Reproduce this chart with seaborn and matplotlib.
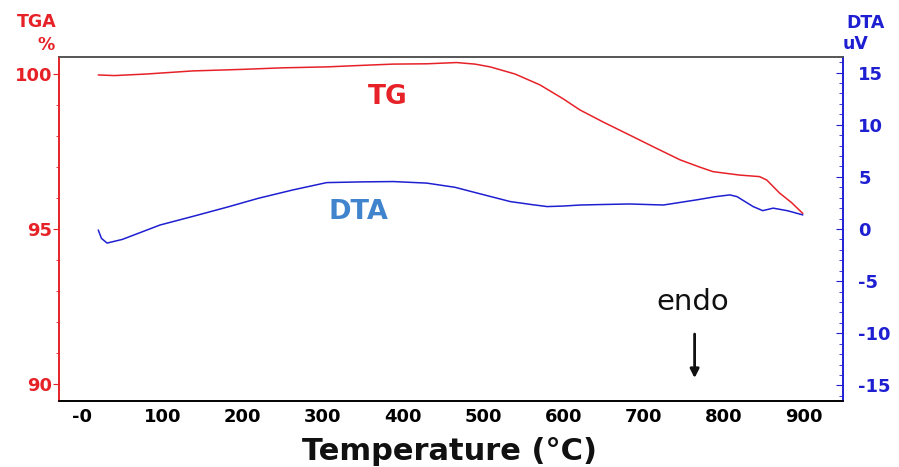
import numpy as np
import pandas as pd
import matplotlib.pyplot as plt
import seaborn as sns
from matplotlib.ticker import MultipleLocator

# TG curve (weight %, left axis)
tg_temp = [20, 40, 80, 138, 200, 250, 305, 350, 388, 430, 467, 490, 509, 540, 571,
           600, 621, 650, 683, 715, 746, 770, 787, 820, 845, 854, 870, 885, 899]
tg_pct = [99.97, 99.95, 100.0, 100.1, 100.15, 100.2, 100.23, 100.28, 100.32, 100.33, 100.37,
          100.32, 100.23, 100.0, 99.65, 99.2, 98.84, 98.45, 98.03, 97.62, 97.23, 97.0,
          96.85, 96.74, 96.69, 96.58, 96.16, 95.85, 95.5]

# DTA curve (uV, right axis)
dta_temp = [20, 24, 31, 50, 97, 140, 181, 220, 263, 305, 350, 388, 430, 465, 492, 534,
            560, 580, 600, 621, 650, 683, 725, 767, 790, 808, 817, 837, 849, 862, 880, 899]
dta_uv = [-0.1, -0.9, -1.35, -1.0, 0.38, 1.25, 2.1, 2.95, 3.75, 4.45, 4.52, 4.55, 4.4, 4.0,
          3.46, 2.63, 2.35, 2.15, 2.2, 2.3, 2.35, 2.4, 2.3, 2.8, 3.1, 3.27, 3.1, 2.15, 1.76,
          2.0, 1.75, 1.35]

x_ticks = [0, 100, 200, 300, 400, 500, 600, 700, 800, 900]
x_labels = ['-0', '100', '200', '300', '400', '500', '600', '700', '800', '900']

tg = pd.DataFrame({'Temperature': tg_temp, 'TG': tg_pct})
dta = pd.DataFrame({'Temperature': dta_temp, 'DTA': dta_uv})

red = '#e62228'
blue = '#1f1fd2'

sns.set_style('white')
plt.rcParams['font.family'] = ['DejaVu Sans']
plt.rcParams['font.weight'] = 'bold'
plt.rcParams['axes.unicode_minus'] = False

fig = plt.figure(figsize=(8.99, 4.67), dpi=100)
ax = fig.add_axes([0.0656, 0.1413, 0.872, 0.7367])
ax2 = ax.twinx()

sns.lineplot(data=tg, x='Temperature', y='TG', ax=ax, color=red, linewidth=1.1)
sns.lineplot(data=dta, x='Temperature', y='DTA', ax=ax2, color=blue, linewidth=1.1)

ax.set_xlim(-29, 949)
ax.set_ylim(89.45, 100.55)
ax2.set_ylim(-16.5, 16.5)

ax.set_xticks(x_ticks)
ax.set_xticklabels(x_labels)
ax.xaxis.set_minor_locator(MultipleLocator(20))
ax.set_yticks([90, 95, 100])
ax.yaxis.set_minor_locator(MultipleLocator(1))
ax2.set_yticks(range(-15, 16, 5))
ax2.yaxis.set_minor_locator(MultipleLocator(1))

ax.tick_params(axis='x', direction='in', length=4, width=1, colors='black', labelsize=13, pad=5)
ax.tick_params(axis='x', which='minor', direction='in', length=2)
ax.tick_params(axis='y', direction='out', length=4, colors=red, labelsize=13, pad=1)
ax.tick_params(axis='y', which='minor', direction='out', length=2, colors=red)
ax2.tick_params(axis='y', direction='in', length=5, colors=blue, labelsize=13, pad=11)
ax2.tick_params(axis='y', which='minor', direction='in', length=3, colors=blue)

for a in (ax, ax2):
    a.spines['left'].set_color(red)
    a.spines['right'].set_color(blue)
    a.spines['top'].set_color('#555555')
    a.spines['bottom'].set_color('black')
    for s in a.spines.values():
        s.set_linewidth(1.2)

ax.set_ylabel('')
ax2.set_ylabel('')
ax.set_xlabel('')
fig.text(449 / 899, 1 - 451 / 467, 'Temperature (°C)', fontsize=22, fontweight='bold',
         ha='center', va='center', color='#111111')

fig.text(37 / 899, 1 - 22 / 467, 'TGA', color=red, fontsize=12.5, fontweight='bold', ha='center', va='center')
fig.text(46 / 899, 1 - 45 / 467, '%', color=red, fontsize=12.5, fontweight='bold', ha='center', va='center')
fig.text(866 / 899, 1 - 23 / 467, 'DTA', color=blue, fontsize=12.5, fontweight='bold', ha='center', va='center')
fig.text(856 / 899, 1 - 44 / 467, 'uV', color=blue, fontsize=12.5, fontweight='bold', ha='center', va='center')

ax.text(381, 99.27, 'TG', color=red, fontsize=19, fontweight='bold', ha='center', va='center')
ax.text(344, 95.55, 'DTA', color='#3f84cc', fontsize=19.5, fontweight='bold', ha='center', va='center')
ax.text(762, 92.65, 'endo', color='#111111', fontsize=21, fontweight='normal', ha='center', va='center')
ax.annotate('', xy=(764, 90.1), xytext=(764, 91.7),
            arrowprops=dict(arrowstyle='-|>', color='#111111', lw=2, mutation_scale=13))

fig.savefig('out.png', dpi=100)
